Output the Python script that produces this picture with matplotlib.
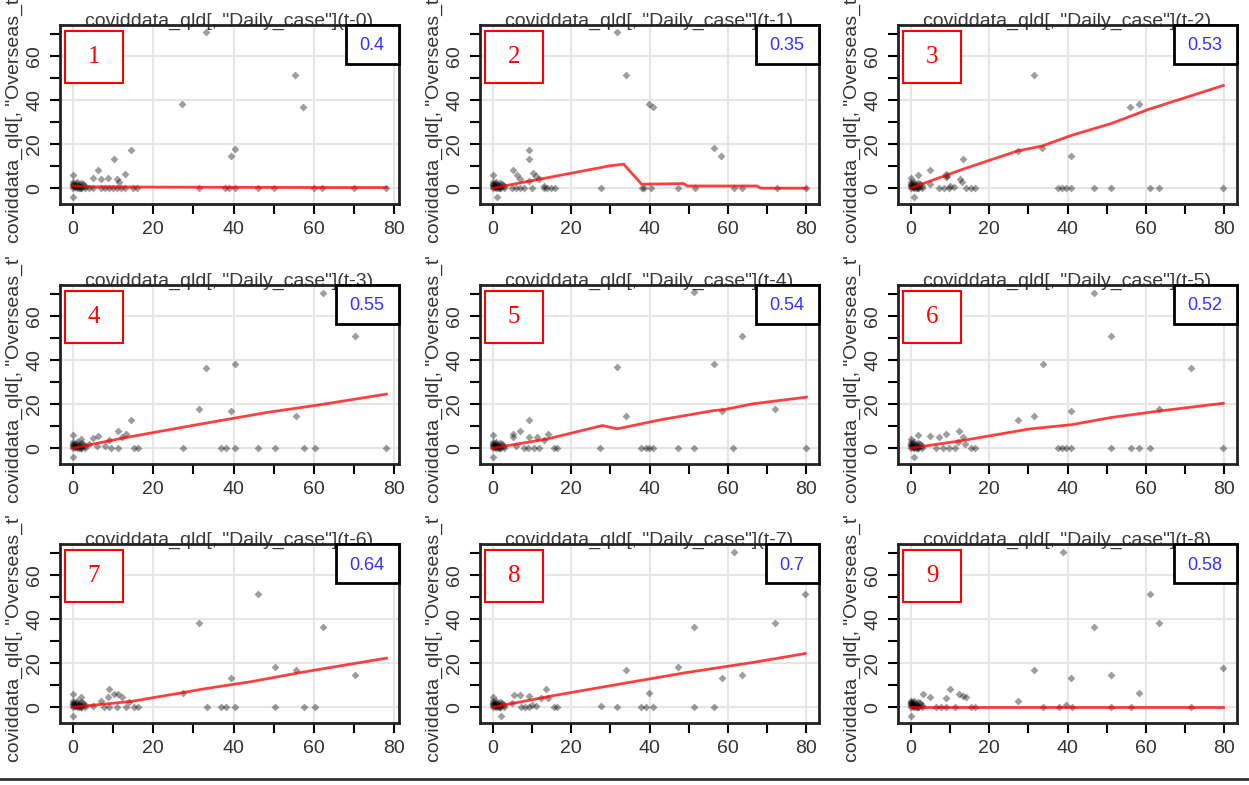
import matplotlib.pyplot as plt
from matplotlib.patches import Rectangle
from matplotlib.lines import Line2D
from matplotlib.transforms import Bbox, TransformedBbox, offset_copy

plt.rcParams['font.family'] = ['Liberation Sans', 'DejaVu Sans']

# shared cluster of small values near the origin
cluster = [(0, 0), (0, 1), (0, 2), (0, 3), (0.5, 1), (1, 0), (1, 1), (1, 2), (1.5, 0), (2, 0),
           (2, 1), (2.5, 2), (3, 0), (0, 1.5), (1, 3), (2, 2.5), (0.5, 0.5), (1.5, 1), (3, 1), (2, 0)]

pts1 = [(33.1, 71), (27.2, 38.4), (55.4, 51.4), (57.3, 36.9), (39.3, 14.7), (40.4, 18), (14.4, 17.2),
        (10.3, 13.1), (6.2, 8.2), (13, 6.6), (11, 4), (11.6, 2.9), (7.1, 4.1), (8.9, 4.8), (5, 4.5),
        (0, 6), (0, -4.2), (31.4, 0), (37.9, 0), (38.9, 0), (40.4, 0), (46.1, 0), (50.1, 0), (60, 0),
        (62, 0), (70, 0), (78, 0), (15, 0), (16, 0), (12, 0), (13, 0), (9, 0), (10, 0), (11, 0),
        (7, 0), (8, 0), (4, 0), (5, 0)]
pts2 = [(31.7, 71), (34, 51.4), (39.8, 38.4), (40.8, 36.9), (56.4, 18.1), (58.3, 14.7), (9.2, 17.2),
        (9.2, 13.1), (5.1, 8.2), (6.2, 6), (7, 4), (10.2, 7.1), (11.1, 5.6), (11.9, 4), (9.2, 3.3),
        (0, 6), (1.1, -4.2), (27.7, 0), (38, 0), (38.7, 0), (40.3, 0), (47.3, 0), (51.5, 0), (61.5, 0),
        (63.7, 0), (72.6, 0), (80, 0), (5, 0), (6, 0), (7, 0), (8, 0), (10, 0), (13, 0), (14, 0),
        (15, 0), (16, 0), (13, 0.8)]
pts3 = [(31.4, 51.4), (55.9, 36.9), (58.3, 38.4), (27.4, 16.9), (33.6, 18.1), (41, 14.7), (13.3, 13.1),
        (5, 8.2), (1.9, 6), (9, 6.6), (9.2, 5.6), (12.5, 4), (13, 2.6), (0, 4.5), (1, -4.2), (37.5, 0),
        (38.6, 0), (39.6, 0), (41, 0), (46.8, 0), (51, 0), (61, 0), (63.3, 0), (79.7, 0), (7.3, 0),
        (8.6, 0), (9.9, 0), (14.1, 0), (15.4, 0), (16.5, 0), (9, 5), (10, 1), (11, 0.5), (5, 2)]
pts4 = [(62.2, 70.6), (70.3, 51), (33.2, 36.6), (40.4, 38.1), (31.3, 17.8), (39.4, 17), (55.5, 14.5),
        (14.5, 13), (11.2, 8), (13.3, 6.5), (12.4, 5.3), (6.2, 5.4), (5, 4.5), (0, 5.9), (0, -4),
        (9.1, 3.5), (2, 4.2), (27.4, 0), (37, 0), (38.1, 0), (40.4, 0), (46, 0), (50.2, 0), (57.4, 0),
        (60.3, 0), (78, 0), (9.5, 0), (11.2, 0), (15.3, 0), (16.2, 0), (6, 1), (8, 1), (4, 2)]
pts5 = [(51.3, 70.9), (63.6, 51.2), (31.8, 36.8), (56.4, 38.3), (34.1, 14.5), (58.5, 17.1), (71.9, 17.9),
        (9.3, 13), (7, 8), (5.3, 6.5), (5.3, 5), (9.3, 5), (11.3, 5), (14.2, 6.5), (13.1, 3.5), (0, 5.8),
        (0, -4.1), (27.5, 0), (37.9, 0), (39, 0), (39.8, 0), (40.8, 0), (47.2, 0), (51.3, 0), (61.4, 0),
        (79.9, 0), (10.6, 0), (11.9, 0), (15.7, 0), (16.5, 0), (6, 1), (8, 0), (9, 0)]
pts6 = [(46.8, 70.6), (51, 51), (33.8, 38.1), (71.5, 36.6), (27.4, 13), (31.4, 14.5), (41, 17),
        (63.3, 17.8), (12.4, 8), (1.9, 6), (9, 6.5), (5, 5.4), (7.3, 5), (13.3, 5), (0, 4.2), (1, -4.1),
        (37.5, 0), (38.6, 0), (39.6, 0), (41, 0), (51, 0), (56.1, 0), (58.3, 0), (61, 0), (79.7, 0),
        (6.5, 0), (8.2, 0), (9.9, 0), (11.4, 0), (15.4, 0), (16.5, 0), (12, 3), (14, 2)]
pts7 = [(46, 51.3), (31.5, 38.1), (62.2, 36.6), (50.2, 18.1), (55.5, 17), (70.3, 14.6), (39.4, 13.1),
        (27.4, 6.5), (9.1, 8.3), (10.4, 6), (11.2, 6), (12.4, 4.5), (8.9, 4.5), (7, 3), (0, 6), (0, -4.2),
        (2, 4.5), (33.3, 0), (37, 0), (38.1, 0), (40.4, 0), (50.2, 0), (57.4, 0), (60.3, 0), (7.9, 0),
        (9.1, 0), (11, 0), (13.3, 0), (15.3, 0), (16.2, 0), (14, 2.5), (5, 0.5)]
pts8 = [(61.5, 70.6), (79.7, 51.3), (51.3, 36.5), (71.9, 38.1), (34.1, 17), (47.2, 18.1), (58.4, 13.1),
        (63.6, 14.6), (39.9, 6.5), (27.6, 0.75), (13.6, 8.3), (5.5, 5.7), (7, 5.7), (9.3, 5), (12.3, 4),
        (14.2, 4), (0, 4.5), (2.1, -4.2), (31.8, 0), (37.9, 0), (39, 0), (40.9, 0), (51.3, 0), (56.4, 0),
        (7.2, 0), (8.2, 0), (9.3, 0), (11, 0.5), (15.7, 0), (16.5, 0), (5, 2), (10, 1)]
pts9 = [(38.9, 70.6), (61, 51.3), (46.8, 36.5), (63.3, 38.1), (31.4, 17), (79.7, 17.8), (41, 13.1),
        (51, 14.6), (58.3, 6.5), (27.4, 2.6), (10.1, 8.3), (3.1, 6), (12.4, 6), (13.3, 5.3), (14.1, 4.5),
        (9, 4), (5, 4.8), (0, -4.2), (0, 2.3), (39.6, 1), (33.8, 0), (37.8, 0), (41.1, 0), (51, 0),
        (56.1, 0), (71.5, 0), (6.5, 0), (7.8, 0), (9, 0), (11.4, 0), (15.4, 0), (16.5, 0)]

# smoothed fits (red)
fit1 = [(0, 1), (5, 0.6), (20, 0.5), (40, 0.4), (60, 0.3), (78, 0.3)]
fit2 = [(0, 0), (10, 3.4), (20, 6.8), (30, 10.2), (33.4, 10.9), (38, 1.8), (48.7, 2.1), (49.6, 1),
        (67.4, 1), (68.3, 0), (80, 0)]
fit3 = [(0, 0), (13.3, 8.6), (27.2, 16.9), (33.6, 19.2), (41, 24), (51.3, 29.5), (60.6, 35.8), (79.7, 46.7)]
fit4 = [(0, 0), (13.7, 5), (31.9, 11), (48.5, 16.3), (61, 19.6), (78, 24.6)]
fit5 = [(0, 0), (14, 4.2), (28, 10.3), (31.8, 8.8), (42.8, 12.9), (56.4, 17.1), (58.9, 17.5),
        (66.5, 20.2), (80, 23.2)]
fit6 = [(0, 0), (13.3, 3.5), (30.2, 8.7), (41.1, 10.7), (51.3, 14), (63.9, 17), (79.7, 20.4)]
fit7 = [(0, 0), (14.5, 2.6), (27, 6.5), (33.6, 8.6), (44.4, 11.6), (56.8, 15.8), (78, 22.3)]
fit8 = [(0, 0), (15.7, 5.3), (32.7, 10.6), (49.6, 15.8), (66.6, 20.4), (79.7, 24.4)]
fit9 = [(0, 0), (79.7, 0)]

points = [pts1, pts2, pts3, pts4, pts5, pts6, pts7, pts8, pts9]
fits = [fit1, fit2, fit3, fit4, fit5, fit6, fit7, fit8, fit9]
scores = ['0.4', '0.35', '0.53', '0.55', '0.54', '0.52', '0.64', '0.7', '0.58']
lags = [0, 1, 2, 3, 4, 5, 6, 7, 8]
xlims = [(-3.12, 81.12), (-3.2, 83.2), (-3.2, 83.2)]

W, H = 1249, 785
fig = plt.figure(figsize=(W / 100, H / 100), dpi=100)
renderer = fig.canvas.get_renderer()

lefts = [60, 480, 898]
tops = [25, 285, 544]
aw, ah = 339, 179
clip_rows = [(0, 256), (256, 516), (516, 785)]
txt_col = '#333333'

for i in range(9):
    r, c = divmod(i, 3)
    ax = fig.add_axes([lefts[c] / W, 1 - (tops[r] + ah) / H, aw / W, ah / H])
    ax.set_xlim(*xlims[c])
    ax.set_ylim(-7.2, 74.2)

    for gx in [0, 20, 40, 60, 80]:
        ax.axvline(gx, color='#e6e6e6', lw=1.5, zorder=0)
    for gy in [0, 20, 40, 60]:
        ax.axhline(gy, color='#e6e6e6', lw=1.5, zorder=0)

    px = [p[0] for p in cluster + points[i]]
    py = [p[1] for p in cluster + points[i]]
    ax.scatter(px, py, marker='D', s=16, color='black', alpha=0.38, linewidths=0, zorder=2)

    fx = [p[0] for p in fits[i]]
    fy = [p[1] for p in fits[i]]
    ax.plot(fx, fy, color='red', lw=2, alpha=0.75, zorder=3)

    ax.set_xticks(range(0, 81, 10))
    ax.set_xticklabels(['0', '', '20', '', '40', '', '60', '', '80'])
    ax.set_yticks(range(0, 71, 10))
    ax.set_yticklabels(['0', '', '20', '', '40', '', '60', ''])
    ax.tick_params(direction='out', length=7, width=1.5, labelsize=14, labelcolor=txt_col, pad=5)
    ax.tick_params(axis='y', labelrotation=90)
    for lab in ax.get_yticklabels():
        lab.set_va('center')
    for sp in ax.spines.values():
        sp.set_linewidth(2)
        sp.set_color('#222222')
        sp.set_zorder(6)

    title = 'coviddata_qld[, "Daily_case"](t-%d)' % lags[i]
    ax.text(0.5, 1.0, title, transform=offset_copy(ax.transAxes, fig=fig, x=0, y=-0.5, units='dots'),
            ha='center', va='baseline', fontsize=14, color='#3a3a3a', zorder=1, clip_on=False)

    # score box in the top right corner
    t = ax.text(1.0, 1.0, scores[i], transform=offset_copy(ax.transAxes, fig=fig, x=-15, y=-21, units='dots'),
                ha='right', va='center', fontsize=13, color='#3333ff', zorder=8)
    bb = t.get_window_extent(renderer)
    bx = ax.transAxes.inverted().transform((bb.x0 - 13, 0))[0]
    ax.add_patch(Rectangle((bx, 1 - 39 / ah), 1 - bx, 39 / ah, transform=ax.transAxes,
                           facecolor='white', edgecolor='black', lw=2, zorder=7, clip_on=False))

    # red panel number box
    ax.add_patch(Rectangle((5 / aw, 1 - 58 / ah), 58 / aw, 52 / ah, transform=ax.transAxes,
                           facecolor='white', edgecolor='red', lw=1.5, zorder=7))
    ax.text(5 / aw + 29 / aw, 1 - 32 / ah, str(i + 1), transform=ax.transAxes, ha='center', va='center',
            fontsize=18, color='red', family='Liberation Serif', zorder=8)

    # y label, clipped to its row like the original figure regions
    yl = fig.text((lefts[c] - 46) / W, 1 - (tops[r] + ah / 2) / H, 'coviddata_qld[, "Overseas_t"]',
                  rotation=90, ha='center', va='center', fontsize=14, color=txt_col, clip_on=True)
    y0, y1 = clip_rows[r]
    yl.set_clip_box(TransformedBbox(Bbox.from_extents(0, 1 - y1 / H, 1, 1 - y0 / H), fig.transFigure))

fig.add_artist(Line2D([0, 1], [1 - 779 / H, 1 - 779 / H], transform=fig.transFigure, color='#333333', lw=2))

fig.savefig('out.png', dpi=100)
